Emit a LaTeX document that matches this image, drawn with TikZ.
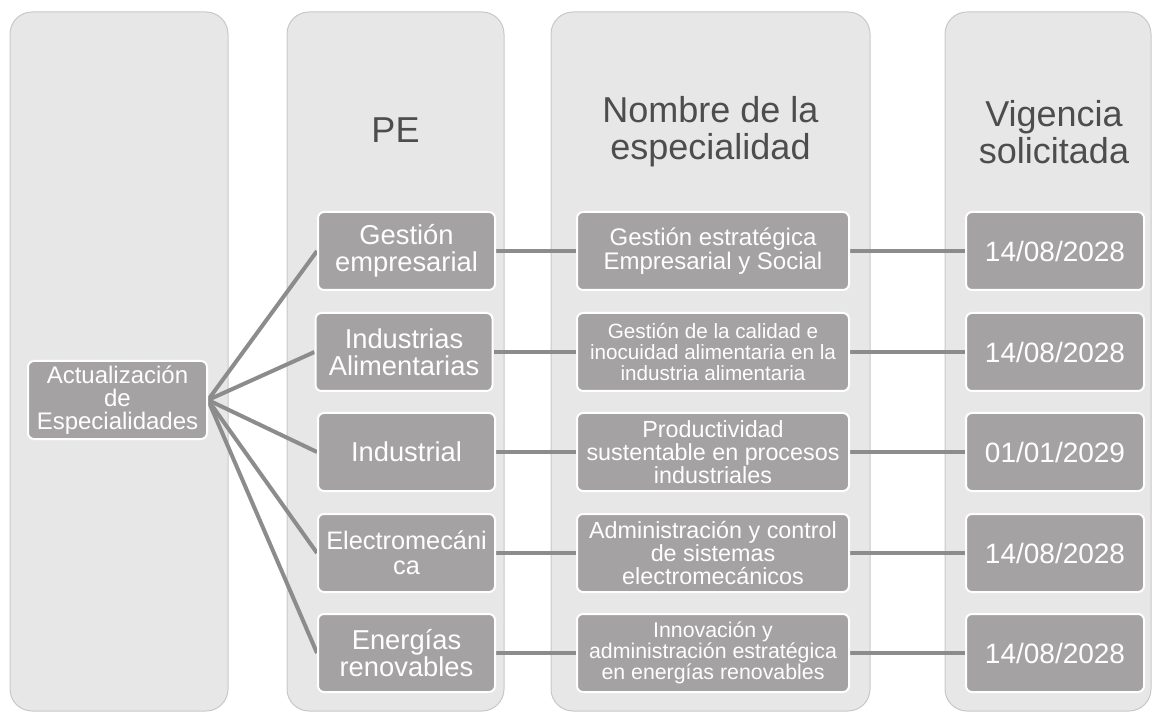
\documentclass[tikz,border=0pt]{standalone}
\usepackage{fontspec}
\setmainfont{Liberation Sans}
\usetikzlibrary{backgrounds}
\definecolor{panelgray}{RGB}{231,231,231}
\definecolor{panelline}{RGB}{200,200,200}
\definecolor{boxgray}{RGB}{164,162,162}
\definecolor{conngray}{RGB}{140,140,140}
\definecolor{headtext}{RGB}{77,77,77}
\begin{document}
\begin{tikzpicture}[x=0.75pt,y=0.75pt,yscale=-1,xscale=1,
  panel/.style={draw=panelline,fill=panelgray,line width=0.75pt,rounded corners=16.5pt},
  head/.style={text=headtext,align=center,inner sep=0.75pt,font=\fontsize{27}{27.5}\selectfont},
  cell/.style={draw=white,line width=1.5pt,fill=boxgray,text=white,align=center,rounded corners=4.5pt,inner sep=0.75pt,minimum height=58.5pt},
  pebox/.style={cell,minimum width=132.75pt,font=\fontsize{20.5}{20}\selectfont},
  espbox/.style={cell,minimum width=204pt},
  vigbox/.style={cell,minimum width=133.5pt,font=\fontsize{21}{20}\selectfont},
  conn/.style={draw=conngray,line width=3pt}]
\useasboundingbox (0,0) rectangle (1152,712);

%Rounded Rect columns
\begin{pgfonlayer}{background}
\draw [panel] (10,12) rectangle (228,711) ;
\draw [panel] (287,12) rectangle (504,711) ;
\draw [panel] (551,12) rectangle (870,711) ;
\draw [panel] (945,12) rectangle (1151,711) ;
\end{pgfonlayer}

% Text Node
\node (hpe) at (395.5,130) [head] {PE};
% Text Node
\node (hesp) at (710.5,132) [head] {Nombre de la\\especialidad};
% Text Node
\node (hvig) at (1054,132) [head] {Vigencia\\solicitada};

% Text Node
\node (act) at (117.5,400) [cell,minimum width=134.25pt,font=\fontsize{18}{17}\selectfont] {Actualización\\de\\Especialidades};

% Text Node
\node (pe1) at (406.5,251) [pebox] {Gestión\\empresarial};
% Text Node
\node (pe2) at (404,352) [pebox] {Industrias\\Alimentarias};
% Text Node
\node (pe3) at (406.5,452) [pebox] {Industrial};
% Text Node
\node (pe4) at (406.5,553) [pebox,font=\fontsize{19}{19}\selectfont] {Electromecáni\\ca};
% Text Node
\node (pe5) at (406.5,653) [pebox] {Energías\\renovables};

% Text Node
\node (esp1) at (713,251) [espbox,font=\fontsize{18}{18.5}\selectfont] {Gestión estratégica\\Empresarial y Social};
% Text Node
\node (esp2) at (713,352) [espbox,font=\fontsize{15.5}{15.5}\selectfont] {Gestión de la calidad e\\inocuidad alimentaria en la\\industria alimentaria};
% Text Node
\node (esp3) at (713,452) [espbox,font=\fontsize{17.5}{17}\selectfont] {Productividad\\sustentable en procesos\\industriales};
% Text Node
\node (esp4) at (713,553) [espbox,font=\fontsize{17.5}{17}\selectfont] {Administración y control\\de sistemas\\electromecánicos};
% Text Node
\node (esp5) at (713,653) [espbox,font=\fontsize{16}{16}\selectfont] {Innovación y\\administración estratégica\\en energías renovables};

% Text Node
\node (vig1) at (1055,251) [vigbox] {14/08/2028};
% Text Node
\node (vig2) at (1055,352) [vigbox] {14/08/2028};
% Text Node
\node (vig3) at (1055,452) [vigbox] {01/01/2029};
% Text Node
\node (vig4) at (1055,553) [vigbox] {14/08/2028};
% Text Node
\node (vig5) at (1055,653) [vigbox] {14/08/2028};

%Straight Lines
\begin{pgfonlayer}{background}
\draw [conn] (act.east) -- (pe1.west) ;
\draw [conn] (act.east) -- (pe2.west) ;
\draw [conn] (act.east) -- (pe3.west) ;
\draw [conn] (act.east) -- (pe4.west) ;
\draw [conn] (act.east) -- (pe5.west) ;
\draw [conn] (pe1.east) -- (esp1.west) ;
\draw [conn] (pe2.east) -- (esp2.west) ;
\draw [conn] (pe3.east) -- (esp3.west) ;
\draw [conn] (pe4.east) -- (esp4.west) ;
\draw [conn] (pe5.east) -- (esp5.west) ;
\draw [conn] (esp1.east) -- (vig1.west) ;
\draw [conn] (esp2.east) -- (vig2.west) ;
\draw [conn] (esp3.east) -- (vig3.west) ;
\draw [conn] (esp4.east) -- (vig4.west) ;
\draw [conn] (esp5.east) -- (vig5.west) ;
\end{pgfonlayer}

\end{tikzpicture}
\end{document}
